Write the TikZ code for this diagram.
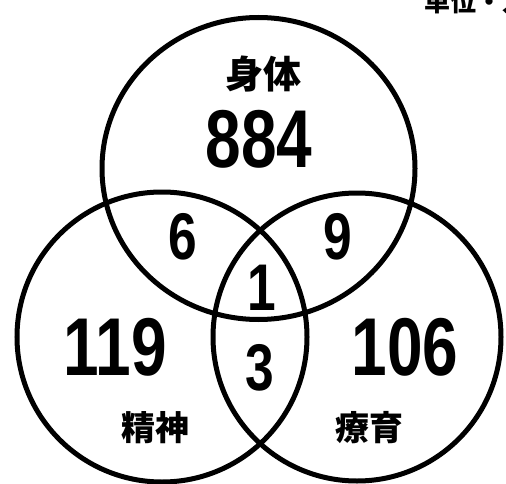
\documentclass[tikz,border=0pt]{standalone}
\usepackage{fontspec}
\setmainfont{Liberation Sans}
\newfontfamily\cjk{Noto Sans CJK JP}
\newcommand{\dg}[1]{\scalebox{0.78}[1]{\bfseries #1}}
\begin{document}
\begin{tikzpicture}[x=1pt,y=-1pt,
  ring/.style={draw=black,line width=5pt},
  big/.style={font=\fontsize{82}{82}\selectfont,inner sep=0pt},
  small/.style={font=\fontsize{66}{66}\selectfont,inner sep=0pt},
  lab/.style={font=\cjk\bfseries\fontsize{34}{34}\selectfont,inner sep=0pt}]
\clip (0,0) rectangle (506,484);
\fill[white] (0,0) rectangle (506,484);
\draw[ring] (258.5,168.5) ellipse [x radius=156.5, y radius=151];
\draw[ring] (162,337) circle [radius=145];
\draw[ring] (357,337) circle [radius=144];
\node[lab,font=\cjk\bfseries\fontsize{38}{38}\selectfont] (shintai) at (263,74) {身体};
\node[big] (n884) at (259,139) {\dg{884}};
\node[small] (n6) at (183,237) {\dg{6}};
\node[small] (n9) at (338,237) {\dg{9}};
\node[small] (n1) at (262,288) {\dg{1}};
\node[small] (n3) at (260,368) {\dg{3}};
\node[big] (n119) at (115,347) {\dg{119}};
\node[big] (n106) at (405,347) {\dg{106}};
\node[lab] (seishin) at (155,428) {精神};
\node[lab] (ryoiku) at (369,428) {療育};
\node[font=\cjk\bfseries\fontsize{26}{26}\selectfont,inner sep=0pt,anchor=base west] (unit) at (424,12) {単位・人};
\end{tikzpicture}
\end{document}
